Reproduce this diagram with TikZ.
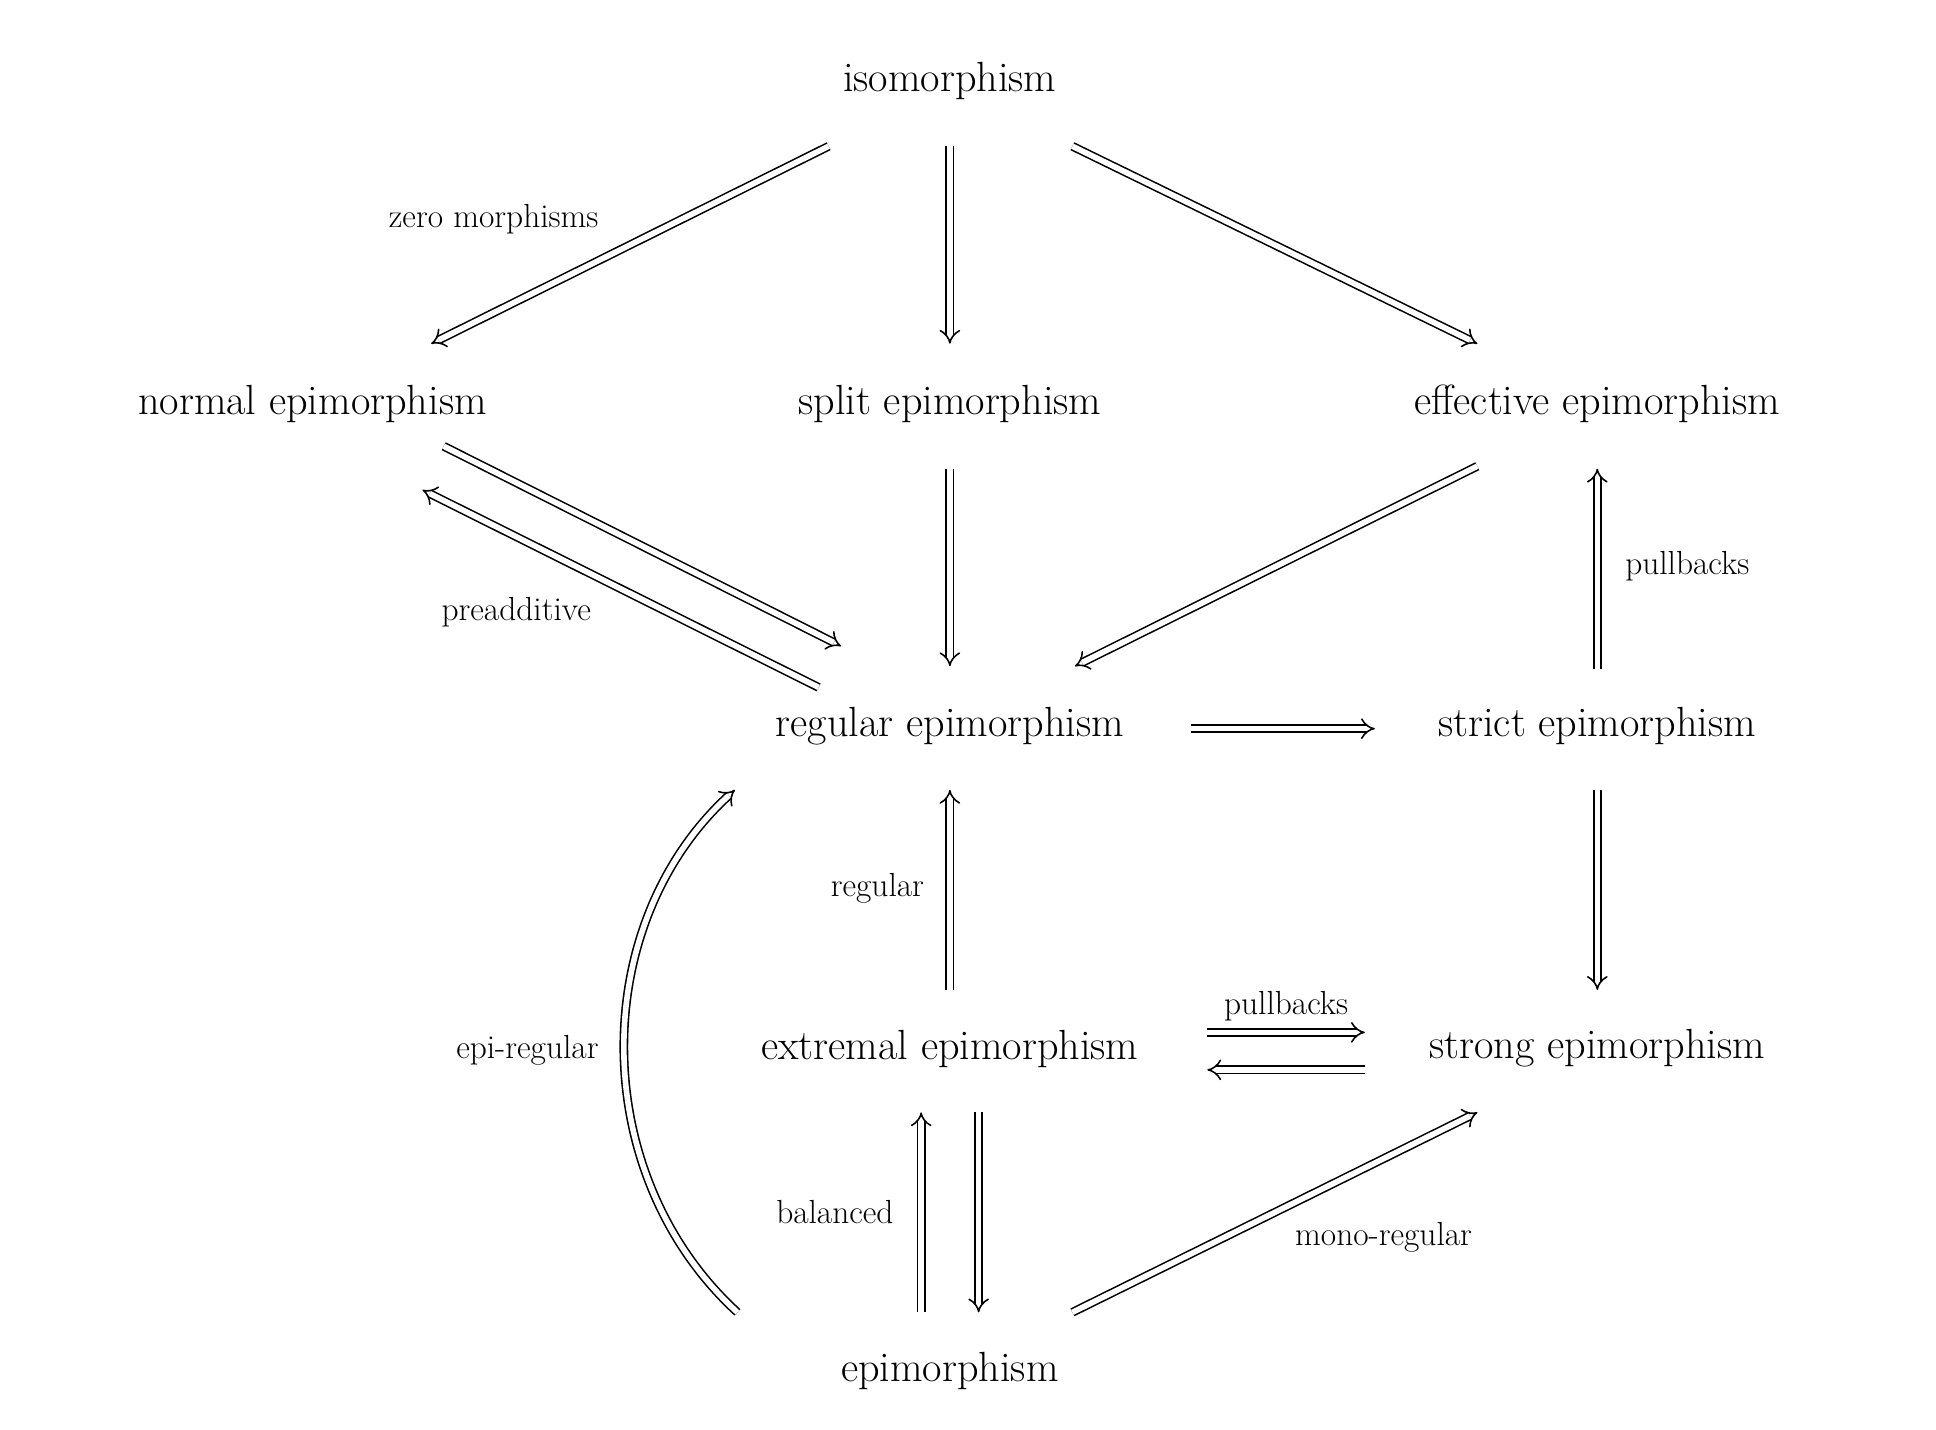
\documentclass[tikz,border=0pt]{standalone}
\usepackage{fontspec}
\usetikzlibrary{arrows.meta,calc}
\begin{document}
\begin{tikzpicture}[x=0.025cm,y=-0.025cm,
  obj/.style={inner sep=0pt,font=\fontsize{24}{28}\selectfont},
  lab/.style={inner sep=0pt,font=\fontsize{19}{22}\selectfont},
  imp/.style={double,double distance=3.2pt,line width=0.9pt,-{Implies[length=6pt,width=11pt]}}]
\useasboundingbox (0,0) rectangle (1549,1144);
\node[obj] (iso) at (760,65) {isomorphism};
\node[obj] (nor) at (250,323) {normal epimorphism};
\node[obj] (spl) at (760,323) {split epimorphism};
\node[obj] (eff) at (1278,323) {effective epimorphism};
\node[obj] (reg) at (760,581) {regular epimorphism};
\node[obj] (str) at (1278,581) {strict epimorphism};
\node[obj] (ext) at (760,839) {extremal epimorphism};
\node[obj] (stg) at (1278,839) {strong epimorphism};
\node[obj] (epi) at (760,1097) {epimorphism};
\draw[imp] ($(iso)+(-97,52)$) -- ($(nor)+(95,-48)$);
\draw[imp] ($(iso)+(0,52)$) -- ($(spl)+(0,-48)$);
\draw[imp] ($(iso)+(98,52)$) -- ($(eff)+(-96,-48)$);
\draw[imp] ($(nor)+(105,34)$) -- ($(reg)+(-87,-64)$);
\draw[imp] ($(reg)+(-105,-31)$) -- ($(nor)+(88,69)$);
\draw[imp] ($(spl)+(0,52)$) -- ($(reg)+(0,-48)$);
\draw[imp] ($(eff)+(-96,50)$) -- ($(reg)+(100,-48)$);
\draw[imp] ($(str)+(0,-46)$) -- ($(eff)+(0,52)$);
\draw[imp] ($(reg)+(193,2)$) -- ($(str)+(-178,2)$);
\draw[imp] ($(str)+(0,51)$) -- ($(stg)+(0,-47)$);
\draw[imp] ($(ext)+(0,-47)$) -- ($(reg)+(0,51)$);
\draw[imp] ($(ext)+(206,-13)$) -- ($(stg)+(-186,-13)$);
\draw[imp] ($(stg)+(-186,17)$) -- ($(ext)+(206,17)$);
\draw[imp] ($(epi)+(-23,-47)$) -- ($(ext)+(-23,51)$);
\draw[imp] ($(ext)+(23,51)$) -- ($(epi)+(23,-47)$);
\draw[imp] ($(epi)+(98,-47)$) -- ($(stg)+(-96,51)$);
\draw[imp] ($(epi)+(-170,-47)$) .. controls (470,940) and (470,740) .. ($(reg)+(-172,51)$);
\node[lab] (l1) at (395,175) {zero morphisms};
\node[lab] (l2) at (413,490) {preadditive};
\node[lab] (l3) at (1350,453) {pullbacks};
\node[lab] (l4) at (702,711) {regular};
\node[lab] (l5) at (1029,805) {pullbacks};
\node[lab] (l6) at (668,970) {balanced};
\node[lab] (l7) at (1107,990) {mono-regular};
\node[lab] (l8) at (422,840) {epi-regular};
\end{tikzpicture}
\end{document}
